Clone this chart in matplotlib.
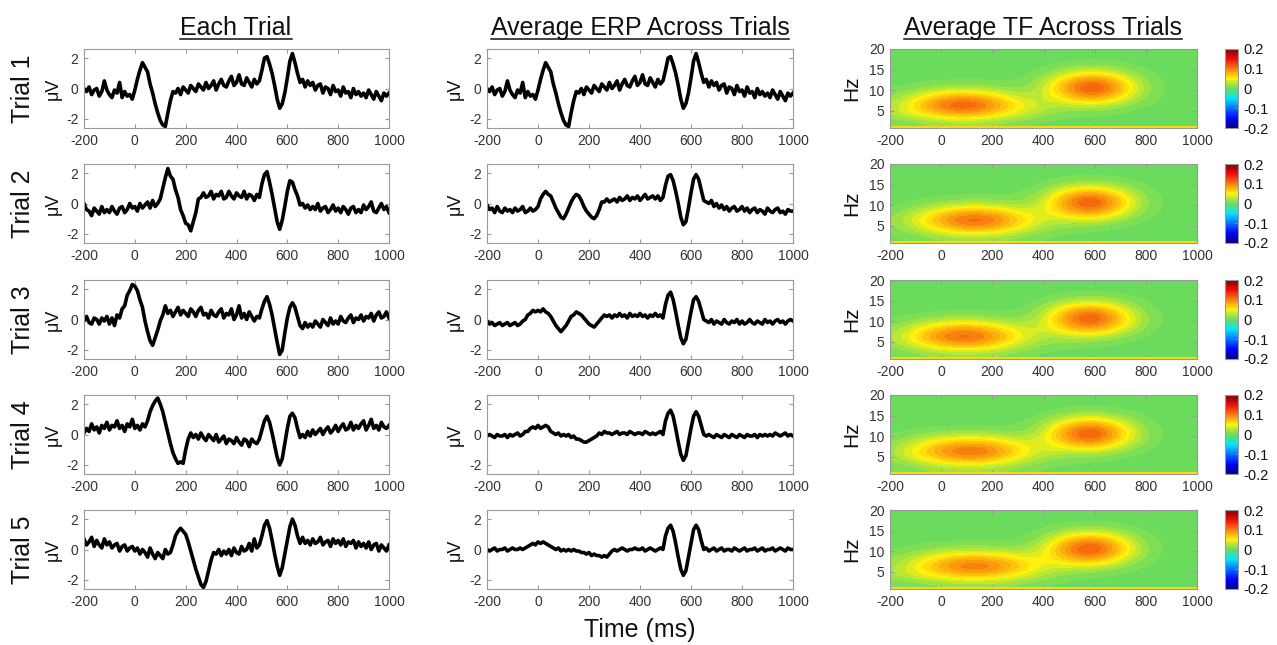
import numpy as np
import matplotlib
matplotlib.use("Agg")
import matplotlib.pyplot as plt
from matplotlib.colors import BoundaryNorm, Normalize, LinearSegmentedColormap
from matplotlib.lines import Line2D
import matplotlib.cm as cm

plt.rcParams['font.family'] = ['Liberation Sans', 'DejaVu Sans']
plt.rcParams['axes.unicode_minus'] = False

# ---------------- data ----------------
times = np.arange(-200, 1001, 10)          # ms, sample times of the ERP traces
xticks = [-200, 0, 200, 400, 600, 800, 1000]
erp_yticks = [-2, 0, 2]
tf_yticks = [5, 10, 15, 20]
cbar_ticks = [-0.2, -0.1, 0, 0.1, 0.2]
cbar_ticklabels = ['-0.2', '-0.1', '0', '0.1', '0.2']
row_labels = ['Trial 1', 'Trial 2', 'Trial 3', 'Trial 4', 'Trial 5']
col_titles = ['Each Trial', 'Average ERP Across Trials', 'Average TF Across Trials']

trial_1 = [0.0, -0.2, 0.1, -0.4, -0.1, 0.0, -0.5, -0.2, 0.5, -0.1,
           -0.4, -0.6, -0.1, -0.3, 0.4, -0.6, -0.2, -0.5, -0.4, -0.7,
           -0.1, 0.6, 1.2, 1.7, 1.4, 1.1, 0.3, -0.3, -1.0, -1.6,
           -2.1, -2.4, -2.5, -1.6, -0.8, -0.2, -0.3, 0.0, -0.4, 0.1,
           -0.1, -0.3, 0.2, 0.0, -0.2, 0.3, 0.1, -0.1, 0.4, 0.0,
           0.2, 0.5, -0.1, 0.3, 0.6, 0.2, 0.1, 0.5, 0.8, 0.2,
           0.4, 0.9, 0.3, 0.2, 0.7, 0.4, 0.1, 0.6, 0.3, 0.5,
           1.2, 2.0, 2.1, 1.6, 1.0, 0.2, -0.7, -1.3, -1.0, -0.3,
           0.7, 1.8, 2.3, 1.7, 1.0, 0.4, 0.6, 0.1, 0.5, 0.2,
           0.4, -0.1, 0.2, 0.3, -0.3, 0.1, 0.0, -0.4, 0.2, -0.2,
           -0.1, -0.5, 0.1, -0.3, -0.2, -0.6, 0.0, -0.4, -0.2, -0.5,
           -0.3, -0.6, -0.1, -0.4, -0.7, -0.2, -0.5, -0.8, -0.3, -0.5,
           -0.3]
trial_2 = [0.0, -0.4, -0.5, -0.8, -0.3, -0.5, -0.7, -0.2, -0.6, -0.4,
           -0.6, -0.2, -0.5, -0.7, -0.3, -0.2, -0.6, -0.4, 0.0, -0.3,
           -0.2, -0.5, 0.0, -0.3, -0.1, 0.1, -0.3, 0.2, -0.2, 0.0,
           0.3, 1.0, 1.7, 2.3, 1.8, 1.6, 0.9, 0.4, -0.4, -0.8,
           -1.3, -1.4, -1.8, -1.2, -0.6, 0.3, 0.4, 0.7, 0.4, 0.5,
           0.8, 0.3, 0.6, 0.5, 0.8, 0.3, 0.4, 0.8, 0.5, 0.3,
           0.7, 0.5, 0.4, 0.8, 0.3, 0.6, 0.5, 0.2, 0.6, 0.4,
           1.3, 1.9, 2.1, 1.4, 0.6, -0.3, -1.2, -1.7, -1.1, -0.2,
           0.8, 1.5, 1.4, 0.9, 0.5, -0.1, 0.0, -0.3, -0.1, -0.4,
           -0.2, -0.4, 0.0, -0.5, -0.3, -0.2, -0.6, -0.4, -0.1, -0.5,
           -0.3, -0.6, -0.2, -0.4, -0.7, -0.3, -0.2, -0.6, -0.4, -0.6,
           -0.1, -0.4, -0.2, 0.1, -0.5, -0.6, -0.3, 0.0, -0.4, -0.2,
           -0.6]
trial_3 = [-0.1, 0.2, -0.2, -0.3, 0.1, 0.0, -0.3, 0.1, -0.1, 0.2,
           -0.3, 0.1, -0.4, 0.3, 0.1, 0.7, 0.9, 1.6, 1.9, 2.3,
           2.2, 1.9, 1.3, 0.8, -0.1, -0.8, -1.4, -1.7, -1.2, -0.7,
           -0.1, 0.3, 0.9, 0.4, 0.6, 0.2, 0.5, 0.8, 0.3, 0.6,
           0.4, 0.2, 0.7, 0.5, 0.2, 0.6, 0.8, 0.3, 0.4, 0.1,
           0.6, 0.3, 0.2, 0.5, 0.7, 0.1, 0.4, 0.3, 0.7, 0.0,
           0.3, 0.9, 0.1, 0.4, 0.0, 0.5, 0.2, -0.1, 0.2, 0.1,
           0.7, 1.2, 1.5, 1.0, 0.3, -0.6, -1.5, -2.3, -2.0, -0.9,
           0.1, 0.8, 1.1, 0.8, 0.2, -0.4, -0.6, -0.2, -0.5, -0.3,
           -0.5, -0.1, -0.3, -0.5, 0.0, -0.2, -0.4, 0.1, -0.3, -0.1,
           -0.3, 0.2, -0.1, -0.2, 0.1, 0.3, -0.2, 0.1, 0.0, 0.3,
           -0.1, 0.2, 0.1, 0.4, -0.1, 0.3, 0.5, 0.1, 0.2, 0.5,
           0.1]
trial_4 = [0.1, 0.4, 0.2, 0.7, 0.3, 0.5, 0.1, 0.6, 0.4, 0.8,
           0.3, 0.6, 0.5, 0.9, 0.4, 0.6, 0.2, 0.7, 0.5, 1.0,
           0.4, 0.6, 0.3, 0.7, 0.5, 0.9, 1.5, 1.9, 2.2, 2.4,
           2.0, 1.5, 0.8, 0.1, -0.6, -1.2, -1.6, -1.9, -1.8, -1.9,
           -1.0, -0.3, 0.1, -0.2, 0.0, -0.3, 0.1, -0.2, -0.4, 0.0,
           -0.2, -0.4, 0.0, -0.5, -0.3, -0.1, -0.6, -0.3, -0.4, -0.6,
           -0.2, -0.5, -0.7, -0.3, -0.4, -0.8, -0.3, -0.5, -0.6, -0.3,
           0.3, 0.9, 1.2, 0.8, 0.1, -0.7, -1.5, -2.0, -1.6, -0.6,
           0.4, 1.2, 1.4, 1.1, 0.4, -0.2, 0.0, -0.2, 0.2, -0.1,
           0.3, 0.0, 0.2, 0.4, 0.0, 0.3, 0.5, 0.1, 0.3, 0.6,
           0.2, 0.5, 0.7, 0.3, 0.4, 0.8, 0.3, 0.6, 0.4, 0.7,
           0.9, 0.3, 0.6, 1.0, 0.4, 0.6, 0.3, 0.8, 0.5, 0.4,
           0.6]
trial_5 = [0.7, 0.3, 0.5, 0.8, 0.2, 0.6, 0.3, 0.1, 0.7, 0.3,
           0.5, 0.1, 0.3, 0.4, -0.1, 0.2, 0.3, -0.1, 0.1, 0.2,
           -0.1, 0.1, -0.3, 0.0, -0.2, -0.5, 0.1, -0.3, -0.6, -0.2,
           -0.4, -0.6, 0.0, -0.3, -0.2, 0.3, 0.9, 1.2, 1.4, 1.2,
           1.0, 0.5, -0.1, -0.7, -1.3, -1.8, -2.3, -2.5, -2.1, -1.4,
           -0.7, -0.2, -0.3, 0.0, -0.4, -0.1, -0.3, 0.0, -0.4, 0.1,
           -0.2, -0.3, 0.2, -0.1, 0.0, 0.4, -0.1, 0.7, 0.1, 0.3,
           0.9, 1.6, 1.9, 1.4, 0.6, -0.3, -1.1, -1.7, -1.2, -0.3,
           0.6, 1.5, 2.0, 1.6, 0.9, 0.4, 0.8, 0.4, 0.6, 0.3,
           0.7, 0.4, 0.5, 0.8, 0.3, 0.5, 0.6, 0.2, 0.7, 0.4,
           0.6, 0.3, 0.7, 0.2, 0.5, 0.4, 0.6, 0.1, 0.5, 0.2,
           0.4, 0.1, 0.5, 0.0, 0.3, 0.4, -0.1, 0.3, 0.1, -0.1,
           0.3]

average_1 = trial_1   # the average over the first trial alone is that trial
average_2 = [-0.1, -0.4, -0.3, -0.6, -0.2, -0.5, -0.6, -0.3, -0.5, -0.4,
             -0.6, -0.3, -0.5, -0.4, -0.2, -0.6, -0.5, -0.3, -0.5, -0.4,
             -0.2, 0.3, 0.6, 0.8, 0.6, 0.5, 0.1, -0.3, -0.6, -0.9,
             -1.0, -0.7, -0.3, 0.1, 0.4, 0.6, 0.5, 0.2, -0.2, -0.5,
             -0.7, -0.9, -1.0, -0.8, -0.4, 0.1, 0.1, 0.3, 0.1, 0.2,
             0.3, 0.1, 0.4, 0.2, 0.3, 0.5, 0.2, 0.4, 0.3, 0.5,
             0.2, 0.4, 0.6, 0.3, 0.4, 0.5, 0.3, 0.5, 0.2, 0.4,
             1.2, 1.8, 1.9, 1.5, 0.8, 0.0, -0.9, -1.4, -1.2, -0.3,
             0.7, 1.6, 1.9, 1.6, 0.9, 0.2, 0.1, 0.0, 0.2, -0.2,
             0.0, -0.3, -0.1, -0.4, -0.2, -0.5, -0.3, -0.2, -0.5, -0.4,
             -0.2, -0.5, -0.3, -0.6, -0.4, -0.3, -0.6, -0.4, -0.5, -0.7,
             -0.3, -0.5, -0.6, -0.4, -0.3, -0.6, -0.5, -0.7, -0.4, -0.5,
             -0.5]
average_3 = [-0.1, -0.3, -0.2, -0.4, -0.3, -0.2, -0.4, -0.3, -0.2, -0.4,
             -0.3, -0.2, -0.4, -0.3, -0.1, 0.0, 0.3, 0.4, 0.6, 0.5,
             0.6, 0.5, 0.7, 0.5, 0.4, 0.2, -0.1, -0.4, -0.6, -0.8,
             -0.6, -0.4, -0.1, 0.2, 0.3, 0.5, 0.4, 0.3, 0.1, -0.1,
             -0.3, -0.4, -0.5, -0.3, -0.1, 0.1, 0.3, 0.2, 0.3, 0.1,
             0.3, 0.2, 0.4, 0.2, 0.3, 0.1, 0.4, 0.2, 0.3, 0.2,
             0.4, 0.2, 0.3, 0.1, 0.3, 0.2, 0.4, 0.2, 0.3, 0.1,
             1.0, 1.6, 1.8, 1.3, 0.5, -0.4, -1.2, -1.6, -1.3, -0.4,
             0.5, 1.3, 1.5, 1.2, 0.6, 0.0, -0.1, -0.2, 0.0, -0.3,
             -0.1, -0.2, -0.3, 0.0, -0.2, -0.3, -0.1, -0.2, 0.0, -0.3,
             -0.1, -0.3, -0.2, 0.0, -0.2, -0.3, -0.1, -0.2, -0.3, 0.0,
             -0.2, -0.1, -0.3, -0.1, 0.0, -0.2, -0.1, -0.3, -0.1, 0.0,
             -0.1]
average_4 = [-0.1, 0.0, -0.1, -0.2, 0.0, -0.1, -0.1, 0.0, -0.2, 0.0,
             -0.1, 0.0, 0.1, -0.1, 0.0, 0.2, 0.2, 0.4, 0.5, 0.4,
             0.6, 0.4, 0.5, 0.6, 0.5, 0.2, 0.1, 0.0, 0.1, -0.1,
             0.0, -0.1, 0.0, -0.2, -0.1, -0.3, -0.3, -0.4, -0.5, -0.5,
             -0.4, -0.3, -0.2, -0.1, 0.1, 0.0, 0.2, 0.1, 0.1, 0.0,
             0.1, 0.2, 0.0, 0.1, 0.1, 0.0, 0.2, 0.1, 0.0, 0.1,
             0.1, 0.0, 0.2, 0.1, 0.0, 0.1, 0.0, 0.1, 0.2, 0.0,
             0.9, 1.4, 1.6, 1.2, 0.4, -0.5, -1.3, -1.7, -1.4, -0.5,
             0.4, 1.2, 1.5, 1.2, 0.6, 0.0, -0.1, 0.0, -0.1, -0.2,
             0.0, -0.1, -0.2, 0.0, -0.1, -0.2, 0.0, -0.1, -0.2, 0.0,
             -0.1, -0.2, 0.0, -0.1, -0.1, 0.0, -0.2, 0.0, -0.1, 0.0,
             -0.1, 0.0, -0.1, 0.1, 0.0, -0.1, 0.0, 0.1, -0.1, 0.0,
             -0.1]
average_5 = [0.0, -0.1, 0.0, 0.1, -0.1, 0.0, 0.0, 0.1, -0.1, 0.0,
             0.1, 0.0, 0.0, 0.1, 0.0, 0.1, 0.2, 0.3, 0.4, 0.3,
             0.5, 0.4, 0.5, 0.4, 0.3, 0.2, 0.1, 0.0, 0.1, -0.1,
             0.0, -0.1, 0.0, -0.1, 0.0, -0.1, -0.1, -0.2, -0.2, -0.3,
             -0.2, -0.4, -0.3, -0.4, -0.4, -0.5, -0.4, -0.5, -0.3, -0.1,
             0.0, -0.1, 0.0, 0.1, 0.0, -0.1, 0.0, 0.0, 0.1, 0.0,
             0.0, 0.1, -0.1, 0.0, 0.1, 0.0, -0.1, 0.0, 0.1, 0.0,
             0.9, 1.4, 1.6, 1.2, 0.4, -0.5, -1.3, -1.7, -1.4, -0.5,
             0.4, 1.3, 1.6, 1.3, 0.6, 0.0, 0.1, -0.1, 0.0, 0.1,
             -0.1, 0.0, 0.1, -0.1, 0.0, 0.0, -0.1, 0.1, 0.0, -0.1,
             0.0, 0.1, -0.1, 0.0, 0.0, 0.1, -0.1, 0.0, 0.1, -0.1,
             0.0, 0.0, 0.1, -0.1, 0.0, 0.1, 0.0, -0.1, 0.1, 0.0,
             0.0]

# time-frequency power (rows: tf_freqs, columns: tf_times)
tf_times = [-200, -100, 0, 100, 200, 300, 400, 500, 600, 700, 800, 900, 1000]
tf_freqs = [2, 4, 6, 8, 10, 12, 14, 16, 18, 20]
tf_power_1 = [
    [0.003, 0.008, 0.016, 0.019, 0.014, 0.006, 0.002, 0.001, 0, 0, 0, 0, 0],
    [0.024, 0.045, 0.070, 0.082, 0.062, 0.036, 0.018, 0.006, 0.006, 0.003, 0, 0, 0],
    [0.022, 0.062, 0.112, 0.130, 0.100, 0.055, 0.030, 0.022, 0.030, 0.016, 0.003, 0, 0],
    [0.014, 0.044, 0.085, 0.100, 0.075, 0.036, 0.028, 0.065, 0.092, 0.052, 0.010, 0.001, 0],
    [0.004, 0.014, 0.030, 0.036, 0.026, 0.012, 0.030, 0.097, 0.137, 0.082, 0.015, 0.001, 0],
    [0.001, 0.002, 0.004, 0.005, 0.004, 0.004, 0.022, 0.083, 0.120, 0.070, 0.012, 0.001, 0],
    [0, 0, 0, 0, 0, 0.001, 0.008, 0.036, 0.052, 0.030, 0.005, 0, 0],
    [0, 0, 0, 0, 0, 0, 0.002, 0.008, 0.012, 0.007, 0.001, 0, 0],
    [0, 0, 0, 0, 0, 0, 0, 0.001, 0.001, 0.001, 0, 0, 0],
    [0, 0, 0, 0, 0, 0, 0, 0, 0, 0, 0, 0, 0]]
tf_power_2 = [
    [0.002, 0.006, 0.014, 0.020, 0.018, 0.010, 0.004, 0.001, 0, 0, 0, 0, 0],
    [0.008, 0.026, 0.055, 0.077, 0.072, 0.044, 0.018, 0.008, 0.006, 0.002, 0, 0, 0],
    [0.012, 0.042, 0.088, 0.123, 0.114, 0.070, 0.032, 0.028, 0.030, 0.014, 0.002, 0, 0],
    [0.008, 0.030, 0.066, 0.094, 0.086, 0.052, 0.036, 0.072, 0.090, 0.046, 0.008, 0, 0],
    [0.002, 0.010, 0.022, 0.032, 0.030, 0.018, 0.034, 0.104, 0.135, 0.072, 0.012, 0.001, 0],
    [0, 0.001, 0.003, 0.005, 0.005, 0.005, 0.024, 0.090, 0.118, 0.062, 0.010, 0.001, 0],
    [0, 0, 0, 0, 0, 0.001, 0.009, 0.040, 0.052, 0.028, 0.004, 0, 0],
    [0, 0, 0, 0, 0, 0, 0.002, 0.008, 0.011, 0.006, 0.001, 0, 0],
    [0, 0, 0, 0, 0, 0, 0, 0.001, 0.001, 0.001, 0, 0, 0],
    [0, 0, 0, 0, 0, 0, 0, 0, 0, 0, 0, 0, 0]]
tf_power_3 = [
    [0.003, 0.009, 0.017, 0.020, 0.015, 0.008, 0.002, 0.001, 0, 0, 0, 0, 0],
    [0.013, 0.038, 0.066, 0.079, 0.062, 0.032, 0.012, 0.007, 0.006, 0.002, 0, 0, 0],
    [0.020, 0.060, 0.106, 0.125, 0.098, 0.052, 0.024, 0.026, 0.030, 0.014, 0.002, 0, 0],
    [0.014, 0.044, 0.080, 0.096, 0.074, 0.040, 0.032, 0.070, 0.089, 0.046, 0.008, 0, 0],
    [0.004, 0.015, 0.030, 0.035, 0.027, 0.015, 0.033, 0.103, 0.134, 0.072, 0.012, 0.001, 0],
    [0.001, 0.002, 0.004, 0.005, 0.004, 0.005, 0.023, 0.089, 0.118, 0.062, 0.010, 0.001, 0],
    [0, 0, 0, 0, 0, 0.001, 0.009, 0.040, 0.052, 0.028, 0.004, 0, 0],
    [0, 0, 0, 0, 0, 0, 0.002, 0.008, 0.011, 0.006, 0.001, 0, 0],
    [0, 0, 0, 0, 0, 0, 0, 0.001, 0.001, 0.001, 0, 0, 0],
    [0, 0, 0, 0, 0, 0, 0, 0, 0, 0, 0, 0, 0]]
tf_power_4 = [
    [0.003, 0.008, 0.016, 0.020, 0.017, 0.009, 0.003, 0.001, 0, 0, 0, 0, 0],
    [0.012, 0.034, 0.061, 0.076, 0.066, 0.039, 0.016, 0.008, 0.006, 0.002, 0, 0, 0],
    [0.019, 0.055, 0.096, 0.120, 0.105, 0.062, 0.030, 0.028, 0.030, 0.014, 0.002, 0, 0],
    [0.013, 0.040, 0.072, 0.092, 0.080, 0.048, 0.036, 0.072, 0.090, 0.046, 0.008, 0, 0],
    [0.004, 0.014, 0.027, 0.034, 0.029, 0.018, 0.034, 0.104, 0.135, 0.072, 0.012, 0.001, 0],
    [0.001, 0.002, 0.004, 0.005, 0.004, 0.005, 0.024, 0.090, 0.118, 0.062, 0.010, 0.001, 0],
    [0, 0, 0, 0, 0, 0.001, 0.009, 0.040, 0.052, 0.028, 0.004, 0, 0],
    [0, 0, 0, 0, 0, 0, 0.002, 0.008, 0.011, 0.006, 0.001, 0, 0],
    [0, 0, 0, 0, 0, 0, 0, 0.001, 0.001, 0.001, 0, 0, 0],
    [0, 0, 0, 0, 0, 0, 0, 0, 0, 0, 0, 0, 0]]
tf_power_5 = [
    [0.003, 0.007, 0.014, 0.019, 0.017, 0.011, 0.005, 0.002, 0, 0, 0, 0, 0],
    [0.022, 0.040, 0.056, 0.072, 0.068, 0.046, 0.022, 0.010, 0.006, 0.002, 0, 0, 0],
    [0.018, 0.048, 0.088, 0.114, 0.107, 0.074, 0.040, 0.032, 0.031, 0.014, 0.002, 0, 0],
    [0.012, 0.036, 0.066, 0.088, 0.082, 0.056, 0.042, 0.075, 0.091, 0.047, 0.008, 0, 0],
    [0.003, 0.012, 0.024, 0.032, 0.030, 0.020, 0.036, 0.106, 0.135, 0.072, 0.012, 0.001, 0],
    [0.001, 0.002, 0.004, 0.005, 0.004, 0.005, 0.025, 0.090, 0.118, 0.062, 0.010, 0.001, 0],
    [0, 0, 0, 0, 0, 0.001, 0.009, 0.040, 0.052, 0.028, 0.004, 0, 0],
    [0, 0, 0, 0, 0, 0, 0.002, 0.008, 0.011, 0.006, 0.001, 0, 0],
    [0, 0, 0, 0, 0, 0, 0, 0.001, 0.001, 0.001, 0, 0, 0],
    [0, 0, 0, 0, 0, 0, 0, 0, 0, 0, 0, 0, 0]]
tf_lowfreq_band = (0.8, 1.3)   # Hz, thin low-frequency strip at the bottom
tf_lowfreq_power = 0.06

trials = [trial_1, trial_2, trial_3, trial_4, trial_5]
averages = [average_1, average_2, average_3, average_4, average_5]
tf_panels = [tf_power_1, tf_power_2, tf_power_3, tf_power_4, tf_power_5]

# ---------------- layout ----------------
W, H = 1277, 645
fig = plt.figure(figsize=(W / 100, H / 100), dpi=100)
col_x = [84, 487, 890]
col_w = [305, 306, 307]
row_top = [49, 164, 280, 395, 510]
ax_h = 79
cbar_x, cbar_w = 1225, 13


def rect(x, top, w, h):
    return [x / W, 1 - (top + h) / H, w / W, h / H]


SPINE = '#9a9a9a'
TICKTXT = '#333333'
TXT = '#111111'


def style(ax):
    for s in ax.spines.values():
        s.set_color(SPINE)
        s.set_linewidth(0.8)
    ax.tick_params(direction='in', length=3, width=0.8, color=SPINE,
                   labelcolor=TICKTXT, labelsize=10, top=True, right=True, pad=4)


# MATLAB-like jet as it appears in the reference
cmap = LinearSegmentedColormap.from_list('jet_ref', [
    (0.0, (0.0, 0.0, 0.5)), (0.125, (0.0, 0.0, 1.0)), (0.375, (0.0, 0.9, 1.0)),
    (0.5, (0.43, 0.86, 0.36)), (0.53, (0.52, 0.88, 0.32)),
    (0.625, (1.0, 0.95, 0.05)),
    (0.875, (0.95, 0.05, 0.05)), (1.0, (0.5, 0.0, 0.0))], N=256)
band_edges = np.linspace(-0.205, 0.205, 42)
band_norm = BoundaryNorm(band_edges, ncolors=cmap.N, clip=True)
cont_norm = Normalize(-0.2, 0.2)

for r in range(5):
    top = row_top[r]
    yc = 1 - (top + ax_h / 2) / H
    # each trial
    ax = fig.add_axes(rect(col_x[0], top, col_w[0], ax_h))
    ax.plot(times, trials[r], color='black', lw=2.6, solid_joinstyle='round')
    ax.set_xlim(-200, 1000)
    ax.set_ylim(-2.6, 2.6)
    ax.set_xticks(xticks)
    ax.set_yticks(erp_yticks)
    style(ax)
    fig.text(53 / W, yc, 'μV', rotation=90, ha='center', va='center',
             fontsize=13, color=TXT)
    fig.text(23 / W, yc, row_labels[r], rotation=90, ha='center', va='center',
             fontsize=18, color=TXT)

    # average ERP
    ax = fig.add_axes(rect(col_x[1], top, col_w[1], ax_h))
    ax.plot(times, averages[r], color='black', lw=2.6, solid_joinstyle='round')
    ax.set_xlim(-200, 1000)
    ax.set_ylim(-2.6, 2.6)
    ax.set_xticks(xticks)
    ax.set_yticks(erp_yticks)
    style(ax)
    fig.text(455 / W, yc, 'μV', rotation=90, ha='center', va='center',
             fontsize=13, color=TXT)

    # average TF
    ax = fig.add_axes(rect(col_x[2], top, col_w[2], ax_h))
    dt = (tf_times[1] - tf_times[0]) / 2
    df = (tf_freqs[1] - tf_freqs[0]) / 2
    ax.imshow(np.array(tf_panels[r]), origin='lower', aspect='auto', cmap=cmap,
              norm=band_norm, interpolation='bicubic', interpolation_stage='data',
              extent=[tf_times[0] - dt, tf_times[-1] + dt,
                      tf_freqs[0] - df, tf_freqs[-1] + df])
    ax.axhspan(tf_lowfreq_band[0], tf_lowfreq_band[1],
               color=cmap(cont_norm(tf_lowfreq_power)), lw=0, zorder=2)
    ax.set_xlim(-200, 1000)
    ax.set_ylim(tf_lowfreq_band[0], 20)
    ax.set_xticks(xticks)
    ax.set_yticks(tf_yticks)
    style(ax)
    fig.text(852 / W, yc, 'Hz', rotation=90, ha='center', va='center',
             fontsize=15, color=TXT)

    cax = fig.add_axes(rect(cbar_x, top, cbar_w, ax_h))
    cb = fig.colorbar(cm.ScalarMappable(norm=cont_norm, cmap=cmap), cax=cax,
                      ticks=cbar_ticks)
    cb.ax.set_yticklabels(cbar_ticklabels)
    cb.outline.set_edgecolor(SPINE)
    cb.outline.set_linewidth(0.8)
    cb.ax.tick_params(direction='in', length=2, width=0.6, color=SPINE,
                      labelcolor=TXT, labelsize=10.5, pad=4)

# column titles (underlined)
title_x = [236, 640, 1043]
title_objs = []
for cx, t in zip(title_x, col_titles):
    title_objs.append(fig.text(cx / W, 1 - 35 / H, t, ha='center', va='baseline',
                               fontsize=18, color=TXT))
fig.text(640 / W, 1 - 637 / H, 'Time (ms)', ha='center', va='baseline',
         fontsize=18, color=TXT)

fig.canvas.draw()
renderer = fig.canvas.get_renderer()
for t in title_objs:
    bb = t.get_window_extent(renderer)
    y = 1 - 39 / H
    fig.add_artist(Line2D([bb.x0 / W, bb.x1 / W], [y, y], color=TXT,
                          lw=1.1, transform=fig.transFigure))

fig.savefig('out.png', dpi=100)
